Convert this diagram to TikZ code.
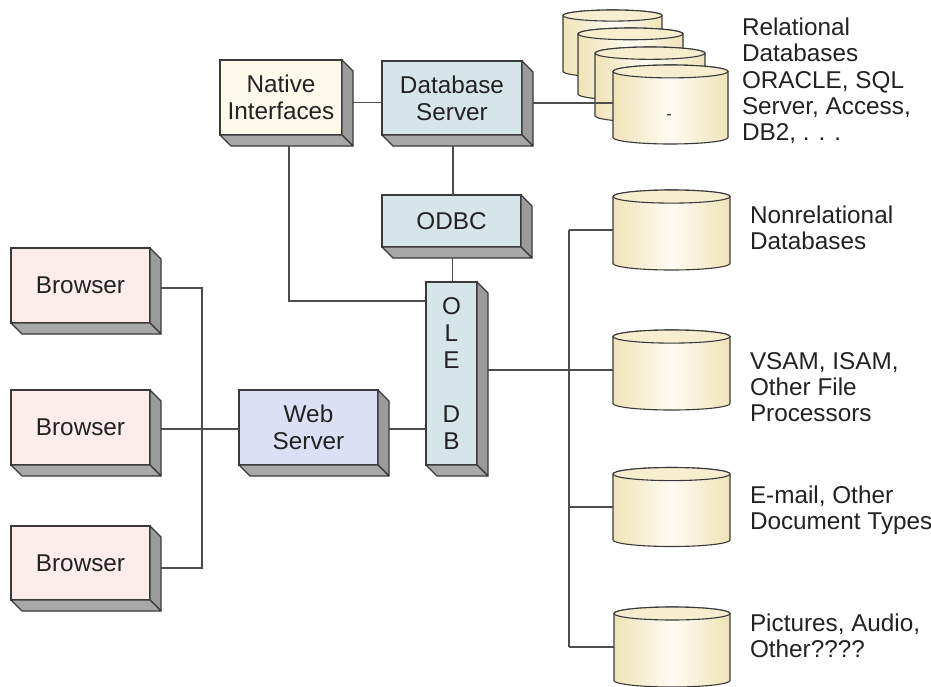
\documentclass[tikz,border=0pt]{standalone}
\usepackage{fontspec}
\setmainfont{Liberation Sans}
\usetikzlibrary{calc}

\definecolor{edge}{HTML}{3A3A3A}
\definecolor{wire}{HTML}{4D4D4D}
\definecolor{txt}{HTML}{222222}
\definecolor{ivory}{HTML}{FDFAEC}
\definecolor{steel}{HTML}{D6E6E8}
\definecolor{blush}{HTML}{FCEDEC}
\definecolor{lav}{HTML}{DDE0F4}
\definecolor{sidegray}{HTML}{9B9B9B}
\definecolor{floorgray}{HTML}{A8A8A8}
\definecolor{cylEdge}{HTML}{F0E3B8}
\definecolor{cylMid}{HTML}{FEFCF3}
\definecolor{cylCap}{HTML}{F7EECF}

\newcommand\dgfont{\fontsize{24.3}{27}\selectfont}
\newcommand\notefont{\fontsize{24.3}{26.3}\selectfont}

% right and bottom faces of an extruded block
\newcommand\extrude[1]{%
  \filldraw[sideface] (#1.north east) -- ++(11,-11) -- ($(#1.south east)+(11,-11)$) -- (#1.south east) -- cycle;
  \filldraw[floorface] (#1.south west) -- (#1.south east) -- ++(11,-11) -- ($(#1.south west)+(11,-11)$) -- cycle;
}

% upright cylinder: name, centre x, centre y, width, height
\newcommand\dbcyl[5]{%
  \node[cylbox, minimum width=#4, minimum height=#5] (#1) at (#2,#3) {};
  \pgfmathsetmacro\cylry{0.056*#4}
  \pgfmathsetmacro\cylrx{#4/2}
  \shadedraw[cylbody] ($(#1.north west)+(0,-\cylry)$) -- ($(#1.south west)+(0,\cylry)$)
    arc[start angle=180, end angle=360, x radius=\cylrx, y radius=\cylry]
    -- ($(#1.north east)+(0,-\cylry)$)
    arc[start angle=0, end angle=180, x radius=\cylrx, y radius=\cylry] -- cycle;
  \filldraw[cyltop] ($(#1.north)+(0,-\cylry)$) ellipse[x radius=\cylrx, y radius=\cylry];
}

\begin{document}
\begin{tikzpicture}[x=1pt, y=1pt,
  blk/.style={draw=edge, line width=1.1pt, inner sep=0pt, outer sep=0pt,
    text=txt, align=center, font=\dgfont},
  sideface/.style={fill=sidegray, draw=edge, line width=1.1pt, line join=round},
  floorface/.style={fill=floorgray, draw=edge, line width=1.1pt, line join=round},
  cylbox/.style={inner sep=0pt, outer sep=0pt, draw=none},
  cylbody/.style={draw=edge, line width=1.1pt, left color=cylEdge, right color=cylEdge, middle color=cylMid},
  cyltop/.style={fill=cylCap, draw=edge, line width=1.1pt},
  conn/.style={draw=wire, line width=1.4pt},
  note/.style={align=left, inner sep=0pt, outer sep=0pt, text=txt, font=\notefont, anchor=west}]

\fill[white] (0,0) rectangle (931,-686);
\useasboundingbox (0,0) rectangle (931,-686);

% relational database stack, back to front
\dbcyl{r1}{612.5}{-43.5}{99}{67}
\dbcyl{r2}{630.5}{-64}{105}{72}
\dbcyl{r3}{650}{-84.5}{110}{75}
\dbcyl{r4}{670.5}{-104.5}{115}{79}
\node[inner sep=0pt, text=txt, font=\fontsize{16}{16}\selectfont] (tick) at (669,-117) {-};

% other data stores
\dbcyl{c1}{671.5}{-230}{117}{80}
\dbcyl{c2}{671.5}{-370}{117}{80}
\dbcyl{c3}{671.5}{-507}{117}{79}
\dbcyl{c4}{672}{-647}{116}{80}

% blocks
\node[blk, fill=ivory, minimum width=122, minimum height=75] (native) at (281,-97.5) {Native\\Interfaces};
\node[blk, fill=steel, minimum width=140, minimum height=74] (dbs) at (452,-98) {Database\\Server};
\node[blk, fill=steel, minimum width=139, minimum height=52] (odbc) at (451.5,-221) {ODBC};
\node[blk, fill=steel, minimum width=51, minimum height=183] (oledb) at (451.5,-373.5) {O\\L\\E\\[27pt]D\\B};
\node[blk, fill=lav, minimum width=139, minimum height=75] (web) at (308.5,-427.5) {Web\\Server};
\node[blk, fill=blush, minimum width=139, minimum height=75] (b1) at (80.5,-285.5) {Browser};
\node[blk, fill=blush, minimum width=139, minimum height=75] (b2) at (80.5,-427.5) {Browser};
\node[blk, fill=blush, minimum width=139, minimum height=74] (b3) at (80.5,-563) {Browser};
\foreach \b in {native,dbs,odbc,oledb,web,b1,b2,b3} {\extrude{\b}}

% labels of the data stores
\node[note] (trel) at (742,-81) {Relational\\Databases\\ORACLE, SQL\\Server, Access,\\DB2, . . .};
\node[note] (tnon) at (750,-228) {Nonrelational\\Databases};
\node[note] (tvsam) at (750,-387) {VSAM, ISAM,\\Other File\\Processors};
\node[note] (tmail) at (750,-510) {E-mail, Other\\Document Types};
\node[note] (tpic) at (750,-636) {Pictures, Audio,\\Other????};

% connectors
\coordinate (nd) at ($(native.east)+(11,-5)$);
\draw[conn] (nd) -- (nd -| dbs.west);
\coordinate (dr) at ($(dbs.east)+(11,-5)$);
\draw[conn] (dr) -- (dr -| r4.west);
\coordinate (dsouth) at ($(dbs.south)+(1,-11)$);
\draw[conn] (dsouth) -- (dsouth |- odbc.north);
\coordinate (osouth) at ($(odbc.south)+(1,-11)$);
\draw[conn] (osouth) -- (osouth |- oledb.north);
\coordinate (nsouth) at ($(native.south)+(8,-11)$);
\draw[conn] (nsouth) |- ($(oledb.west)+(0,72.5)$);

\coordinate (bus) at (569,0);
\draw[conn] ($(oledb.east |- c2.west)+(11,0)$) -- (c2.west);
\draw[conn] (bus |- c1.west) -- (bus |- c4.west);
\foreach \c in {c1,c3,c4} {\draw[conn] (bus |- \c.west) -- (\c.west);}

\coordinate (wo) at ($(web.east)+(11,-1.5)$);
\draw[conn] (wo) -- (wo -| oledb.west);
\coordinate (bw) at ($(b2.east)+(11,-1.5)$);
\draw[conn] (bw) -- (bw -| web.west);
\coordinate (bbus) at (202,0);
\coordinate (t1) at ($(b1.east)+(11,-2.5)$);
\coordinate (t3) at ($(b3.east)+(11,-5)$);
\draw[conn] (t1) -- (t1 -| bbus) -- (t3 -| bbus) -- (t3);
\end{tikzpicture}
\end{document}
